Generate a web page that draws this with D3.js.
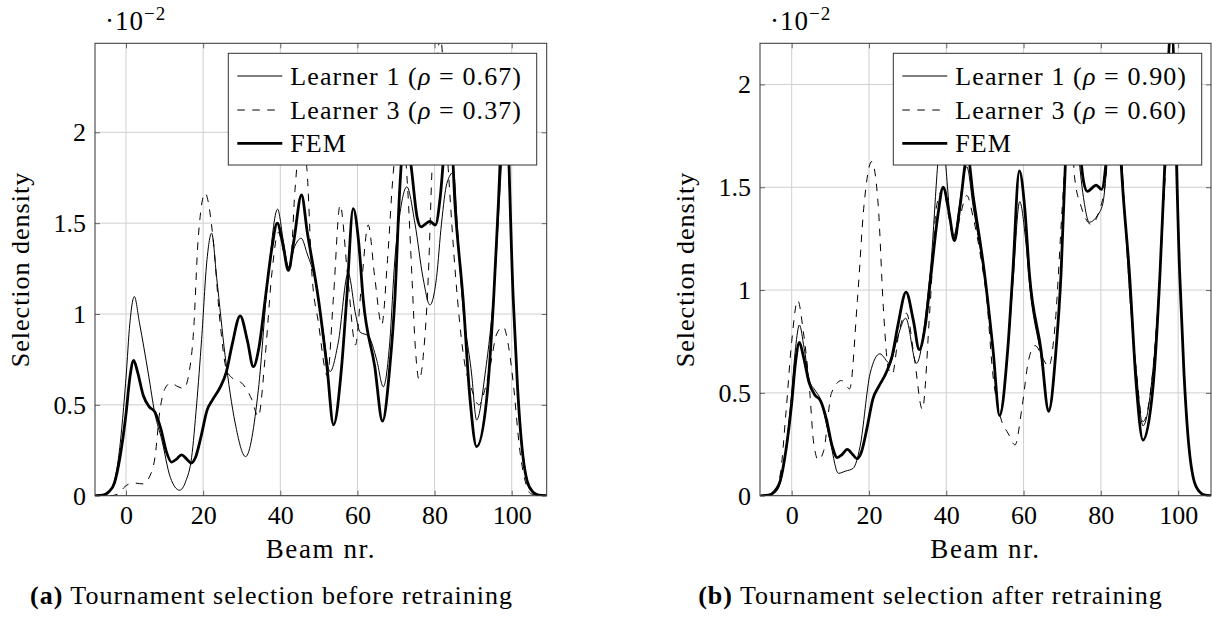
<!DOCTYPE html>
<html>
<head>
<meta charset="utf-8">
<script src="https://cdn.jsdelivr.net/npm/d3@7"></script>
<style>
  body { margin: 0; background: #fff; }
  svg text { font-family: "Liberation Serif", "DejaVu Serif", "Times New Roman", serif; fill: #000; }
</style>
</head>
<body>
<script>
// tick labels
const xTicks = [0, 20, 40, 60, 80, 100];
const yTicks = [0, 0.5, 1, 1.5, 2];

// FEM reference density (same in both panels), [beam, density*100]
const fem = [[-8,0],[-6,0.003],[-4.5,0.02],[-3,0.07],[-1.5,0.22],[0,0.45],[1,0.65],[2,0.745],[3,0.68],[4.5,0.55],[6,0.49],[7.5,0.46],[9,0.37],[10.5,0.24],[11.8,0.185],[13,0.2],[14.4,0.225],[15.8,0.2],[16.9,0.18],[18,0.21],[19.5,0.33],[21,0.47],[22.5,0.53],[24.5,0.6],[26,0.68],[27.5,0.83],[29.6,0.99],[31.5,0.85],[33,0.71],[34.5,0.82],[36.2,1.1],[37.8,1.36],[39.2,1.5],[40.7,1.38],[42.1,1.24],[43.5,1.4],[45.5,1.655],[47,1.45],[49.9,1.08],[52.1,0.71],[53.8,0.39],[55.9,0.71],[57.2,1.08],[58.9,1.58],[60.3,1.4],[61.5,1.08],[64.5,0.71],[66.5,0.41],[68.4,0.71],[69.7,1.08],[71,1.7],[72.5,2.05],[74,1.8],[75.5,1.53],[76.5,1.48],[78.8,1.51],[80.2,1.49],[81.5,1.65],[82.7,1.95],[84,2.1],[85.3,1.6],[87.4,1.08],[89.2,0.53],[90.9,0.27],[93.5,0.53],[95.3,1.08],[96.5,1.59],[98.2,2.3],[100.4,1.08],[101.5,0.6],[102.5,0.3],[104,0.08],[105.5,0.02],[107,0.003],[109,0]];

// before retraining
const learner1A = [[-8,0],[-6,0.002],[-4,0.03],[-2,0.2],[0,0.65],[1,0.95],[2.15,1.096],[3.5,0.95],[5.8,0.67],[7.5,0.45],[9.25,0.31],[11.5,0.1],[13.9,0.03],[15.5,0.08],[17,0.21],[18.3,0.5],[19.6,0.86],[21,1.3],[22.2,1.445],[23.5,1.2],[25.7,0.77],[28.3,0.4],[31,0.215],[34.3,0.58],[36.9,1.22],[39.3,1.577],[40.8,1.4],[42.1,1.26],[43.7,1.37],[45.4,1.417],[47,1.33],[49,1.19],[50.8,0.95],[52.9,0.683],[55,0.84],[57.6,1.225],[59.5,1.0],[60.7,0.9],[62.8,0.88],[65,0.747],[66.7,0.6],[68.4,0.85],[69.7,1.3],[71,1.55],[72.8,1.7],[74.9,1.5],[77,1.2],[78.8,1.05],[80.5,1.2],[81.8,1.5],[83.2,1.72],[84.9,1.78],[86,1.45],[87,1.13],[89.6,0.67],[90.9,0.417],[93.1,0.67],[95.7,1.22],[97,1.7],[98.3,2.1],[100.4,1.1],[101.5,0.62],[102.5,0.32],[104,0.09],[105.5,0.02],[107,0.003],[109,0]];
const learner3A = [[-8,0],[-4,0],[-2,0.01],[-0.3,0.05],[1.9,0.07],[4.5,0.065],[6,0.1],[7.5,0.21],[8.8,0.47],[10.1,0.59],[11.6,0.62],[13.5,0.6],[15,0.59],[16.2,0.66],[17.5,0.9],[18.7,1.41],[20.5,1.665],[22.6,1.41],[24.4,0.95],[26.1,0.69],[28,0.64],[30,0.62],[32.6,0.53],[34.3,0.435],[36.1,0.77],[37.8,1.22],[39.5,1.45],[41,1.33],[42.5,1.24],[43.8,1.68],[45.2,1.95],[46.8,1.82],[48.2,1.22],[49.9,0.95],[52.2,0.66],[53.8,1.1],[55.5,1.6],[57.5,1.2],[59.5,0.83],[61,1.15],[62.8,1.49],[64.5,1.2],[66.3,0.94],[67.8,1.3],[69.3,1.78],[71.5,2.05],[73,1.7],[74.1,1.22],[75,0.82],[76,0.637],[77.2,0.8],[78.4,1.22],[79.3,1.78],[81.5,2.52],[83.6,1.78],[85.4,1.22],[87.5,0.77],[89.7,0.58],[91.5,0.5],[93,0.58],[94.4,0.71],[96.1,0.89],[97.8,0.93],[99.2,0.82],[100.4,0.62],[102.1,0.25],[103.9,0.05],[105,0.01],[109,0]];

// after retraining
const learner1B = [[-8,0],[-6,0.002],[-4,0.02],[-2,0.15],[0,0.5],[1,0.72],[2,0.83],[3.2,0.72],[4.6,0.56],[6,0.514],[7.3,0.475],[9.9,0.27],[12.1,0.109],[14,0.12],[15.9,0.133],[17.7,0.24],[20.3,0.595],[22.8,0.69],[25.4,0.644],[27.2,0.757],[29.5,0.863],[32.3,0.644],[35.8,1.08],[38.8,1.75],[41.8,1.26],[45.3,1.6],[47,1.4],[49.9,1.06],[52.1,0.7],[53.7,0.39],[55.9,0.7],[57.3,1.05],[59,1.43],[60.5,1.25],[61.7,1.0],[64.5,0.68],[66.5,0.42],[68.4,0.7],[69.7,1.08],[71,1.7],[72.5,2.0],[74,1.7],[75.5,1.45],[77,1.33],[79,1.36],[80.5,1.42],[82,1.7],[84,2.1],[85.5,1.6],[87.4,1.0],[89.2,0.6],[90.9,0.34],[93.3,0.58],[95.3,1.08],[96.5,1.55],[98.2,2.25],[100.4,1.08],[101.5,0.6],[102.5,0.3],[104,0.08],[105.5,0.02],[107,0.003],[109,0]];
const learner3B = [[-8,0],[-5,0.01],[-3,0.1],[-1.5,0.4],[0,0.75],[1.55,0.95],[3,0.8],[4.7,0.5],[5.6,0.27],[6.9,0.174],[8.3,0.22],[10.3,0.5],[12.9,0.56],[15,0.52],[17,0.95],[18.7,1.41],[20.7,1.625],[22.4,1.41],[23.7,0.92],[25,0.62],[26,0.59],[27.8,0.8],[29.7,0.887],[31.8,0.66],[33.8,0.42],[35.8,0.92],[37.5,1.41],[39.2,1.49],[40.7,1.35],[42.1,1.24],[43.5,1.35],[45.3,1.46],[47,1.35],[49,1.15],[50.5,0.95],[52,0.6],[54,0.384],[56.1,0.3],[57.8,0.247],[59.6,0.43],[61.3,0.66],[63,0.73],[65.2,0.66],[66.5,0.627],[68.2,0.84],[70,1.4],[72,1.9],[73.2,1.55],[75,1.4],[77.5,1.32],[79.5,1.38],[81,1.5],[82.5,1.8],[84,2.05],[85.5,1.6],[87.4,1.0],[89.2,0.6],[90.9,0.36],[93.3,0.58],[95.3,1.08],[96.5,1.5],[98.5,2.1],[100.4,1.08],[101.5,0.6],[102.5,0.3],[104,0.08],[105.5,0.02],[107,0.003],[109,0]];

const rhoA = ["0.67", "0.37"];
const rhoB = ["0.90", "0.60"];
const captionA = "Tournament selection before retraining";
const captionB = "Tournament selection after retraining";

const W = 1212, H = 617;
const plotTop = 43.3, plotBottom = 495.7;
const fs = 26;

const svg = d3.select("body").append("svg")
  .attr("width", W).attr("height", H)
  .style("display", "block");

const panels = [
  { id: "a", left: 95, right: 546.7, xDom: [-8.04, 109.07], yMax: 2.49, l1: learner1A, l3: learner3A, rho: rhoA, cap: captionA,
    legX: 228.3, legR: 536.7, ylab: 28.5, capX: 271.5 },
  { id: "b", left: 760, right: 1211, xDom: [-8.2, 108.5], yMax: 2.2, l1: learner1B, l3: learner3B, rho: rhoB, cap: captionB,
    legX: 893.3, legR: 1201.7, ylab: 693.5, capX: 930.5 }
];

panels.forEach(p => {
  const x = d3.scaleLinear().domain(p.xDom).range([p.left, p.right]);
  const y = d3.scaleLinear().domain([0, p.yMax]).range([plotBottom, plotTop]);
  const g = svg.append("g");

  // grid
  g.selectAll(".gx").data(xTicks).enter().append("line")
    .attr("x1", d => x(d)).attr("x2", d => x(d))
    .attr("y1", plotTop).attr("y2", plotBottom)
    .attr("stroke", "#cfcfcf").attr("stroke-width", 1);
  g.selectAll(".gy").data(yTicks).enter().append("line")
    .attr("x1", p.left).attr("x2", p.right)
    .attr("y1", d => y(d)).attr("y2", d => y(d))
    .attr("stroke", "#cfcfcf").attr("stroke-width", 1);

  // curves
  svg.append("clipPath").attr("id", "clip-" + p.id)
    .append("rect").attr("x", p.left).attr("y", plotTop)
    .attr("width", p.right - p.left).attr("height", plotBottom - plotTop);

  const line = d3.line().x(d => x(d[0])).y(d => y(d[1])).curve(d3.curveMonotoneX);
  const cg = g.append("g").attr("clip-path", "url(#clip-" + p.id + ")");
  cg.append("path").datum(p.l1).attr("d", line)
    .attr("fill", "none").attr("stroke", "#000").attr("stroke-width", 1);
  cg.append("path").datum(p.l3).attr("d", line)
    .attr("fill", "none").attr("stroke", "#000").attr("stroke-width", 1)
    .attr("stroke-dasharray", "7.5,7.5");
  cg.append("path").datum(fem).attr("d", line)
    .attr("fill", "none").attr("stroke", "#000").attr("stroke-width", 2.8)
    .attr("stroke-linejoin", "round");

  // axes: ticks pointing inward
  const ax = (gen, tx, ty) => g.append("g").attr("transform", `translate(${tx},${ty})`).call(gen)
    .attr("font-family", null)
    .call(s => s.select(".domain").remove())
    .call(s => s.selectAll(".tick line").attr("stroke", "#666"))
    .call(s => s.selectAll("text").attr("font-size", fs));
  ax(d3.axisBottom(x).tickValues(xTicks).tickSizeInner(-5).tickSizeOuter(0).tickPadding(10), 0, plotBottom);
  ax(d3.axisTop(x).tickValues(xTicks).tickSizeInner(-5).tickSizeOuter(0).tickFormat(""), 0, plotTop);
  ax(d3.axisLeft(y).tickValues(yTicks).tickSizeInner(-5).tickSizeOuter(0).tickPadding(9).tickFormat(d => String(d)), p.left, 0);
  ax(d3.axisRight(y).tickValues(yTicks).tickSizeInner(-5).tickSizeOuter(0).tickFormat(""), p.right, 0);

  // frame
  g.append("rect").attr("x", p.left).attr("y", plotTop)
    .attr("width", p.right - p.left).attr("height", plotBottom - plotTop)
    .attr("fill", "none").attr("stroke", "#333").attr("stroke-width", 1);

  // scale factor
  const sf = g.append("text").attr("x", p.left + 10).attr("y", 30).attr("font-size", 27)
    .attr("letter-spacing", 1);
  sf.append("tspan").text("·10");
  sf.append("tspan").attr("dy", -10).attr("font-size", 19).text("−2");

  // axis labels
  g.append("text").attr("x", (p.left + p.right) / 2).attr("y", 558)
    .attr("text-anchor", "middle").attr("font-size", 27).attr("letter-spacing", 1.6)
    .text("Beam nr.");
  g.append("text").attr("transform", `translate(${p.ylab},${(plotTop + plotBottom) / 2}) rotate(-90)`)
    .attr("text-anchor", "middle").attr("font-size", fs).attr("letter-spacing", 1)
    .text("Selection density");

  // caption
  const cap = g.append("text").attr("x", p.capX).attr("y", 604)
    .attr("text-anchor", "middle").attr("font-size", fs).attr("letter-spacing", 1);
  cap.append("tspan").attr("font-weight", "bold").text("(" + p.id + ")");
  cap.append("tspan").text(" " + p.cap);

  // legend
  const lg = g.append("g");
  lg.append("rect").attr("x", p.legX).attr("y", 53.3)
    .attr("width", p.legR - p.legX).attr("height", 165 - 53.3)
    .attr("fill", "#fff").attr("stroke", "#333").attr("stroke-width", 1);
  const rows = [
    { name: "Learner 1", rho: p.rho[0], w: 1, dash: null },
    { name: "Learner 3", rho: p.rho[1], w: 1, dash: "7.5,7.5" },
    { name: "FEM", rho: null, w: 2.8, dash: null }
  ];
  const rowY = [76, 110, 143.3];
  rows.forEach((r, i) => {
    lg.append("line").attr("x1", p.legX + 9).attr("x2", p.legX + 54)
      .attr("y1", rowY[i]).attr("y2", rowY[i])
      .attr("stroke", "#000").attr("stroke-width", r.w)
      .attr("stroke-dasharray", r.dash);
    const t = lg.append("text").attr("x", p.legX + 62).attr("y", rowY[i] + 9)
      .attr("font-size", fs).attr("letter-spacing", 1.1);
    if (r.rho) {
      t.append("tspan").text(r.name + " (");
      t.append("tspan").attr("font-style", "italic").text("ρ");
      t.append("tspan").text(" = " + r.rho + ")");
    } else {
      t.text(r.name);
    }
  });
});
</script>
</body>
</html>
